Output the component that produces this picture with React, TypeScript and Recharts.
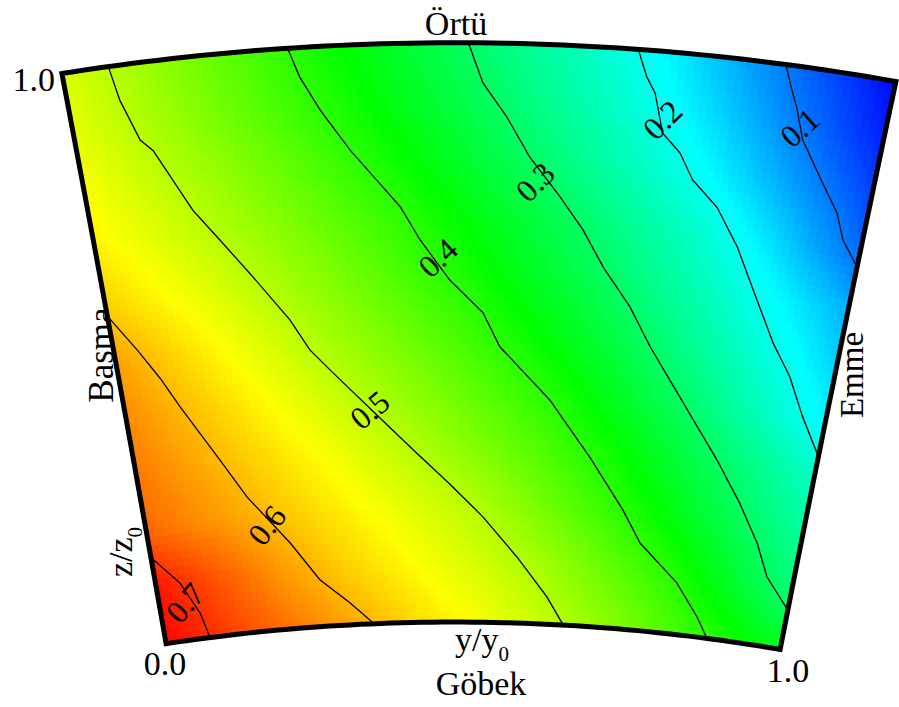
import React from 'react';
import { ComposedChart, Scatter, XAxis, YAxis, Customized } from 'recharts';

// ---- grid of the contour field (y/y0 across, z/z0 up) ----
const Y_GRID = [0, 0.1, 0.2, 0.3, 0.4, 0.5, 0.6, 0.7, 0.8, 0.9, 1.0];
const Z_GRID = [0, 0.1, 0.2, 0.3, 0.4, 0.5, 0.6, 0.7, 0.8, 0.9, 1.0];
const FIELD_Z00 = [0.727, 0.690, 0.652, 0.615, 0.580, 0.547, 0.515, 0.477, 0.434, 0.392, 0.349];
const FIELD_Z01 = [0.718, 0.670, 0.622, 0.584, 0.553, 0.523, 0.490, 0.447, 0.404, 0.345, 0.285];
const FIELD_Z02 = [0.657, 0.626, 0.594, 0.562, 0.531, 0.499, 0.455, 0.412, 0.363, 0.310, 0.258];
const FIELD_Z03 = [0.645, 0.609, 0.574, 0.538, 0.502, 0.464, 0.425, 0.382, 0.331, 0.280, 0.229];
const FIELD_Z04 = [0.632, 0.592, 0.551, 0.511, 0.473, 0.436, 0.398, 0.348, 0.297, 0.239, 0.182];
const FIELD_Z05 = [0.616, 0.571, 0.527, 0.485, 0.447, 0.409, 0.364, 0.317, 0.265, 0.211, 0.157];
const FIELD_Z06 = [0.582, 0.543, 0.503, 0.463, 0.423, 0.381, 0.336, 0.290, 0.238, 0.186, 0.134];
const FIELD_Z07 = [0.560, 0.521, 0.481, 0.442, 0.403, 0.358, 0.313, 0.264, 0.214, 0.154, 0.090];
const FIELD_Z08 = [0.546, 0.504, 0.463, 0.421, 0.377, 0.331, 0.284, 0.233, 0.180, 0.123, 0.065];
const FIELD_Z09 = [0.532, 0.488, 0.444, 0.401, 0.355, 0.310, 0.260, 0.210, 0.155, 0.098, 0.041];
const FIELD_Z10 = [0.526, 0.479, 0.433, 0.387, 0.340, 0.293, 0.244, 0.194, 0.138, 0.081, 0.025];
const FIELD = [FIELD_Z00, FIELD_Z01, FIELD_Z02, FIELD_Z03, FIELD_Z04, FIELD_Z05, FIELD_Z06, FIELD_Z07, FIELD_Z08, FIELD_Z09, FIELD_Z10];

// ---- contour lines, [y/y0, z/z0] ----
const CONTOUR_07 = [[0.000, 0.151], [0.038, 0.100], [0.062, 0.044], [0.072, 0.000]];
const CONTOUR_06 = [[0.000, 0.574], [0.032, 0.509], [0.057, 0.455], [0.079, 0.401], [0.125, 0.302], [0.158, 0.234], [0.216, 0.148], [0.257, 0.081], [0.302, 0.038], [0.339, 0.000]];
const CONTOUR_05 = [[0.056, 1.000], [0.063, 0.940], [0.080, 0.867], [0.094, 0.846], [0.133, 0.736], [0.163, 0.680], [0.201, 0.611], [0.245, 0.532], [0.269, 0.478], [0.299, 0.436], [0.358, 0.360], [0.409, 0.298], [0.463, 0.238], [0.513, 0.182], [0.567, 0.114], [0.617, 0.047], [0.646, 0.000]];
const CONTOUR_04 = [[0.271, 1.000], [0.283, 0.949], [0.305, 0.890], [0.339, 0.819], [0.371, 0.765], [0.400, 0.718], [0.425, 0.660], [0.464, 0.590], [0.509, 0.534], [0.533, 0.476], [0.606, 0.387], [0.669, 0.292], [0.725, 0.205], [0.756, 0.151], [0.820, 0.089], [0.859, 0.035], [0.880, 0.000]];
const CONTOUR_03 = [[0.487, 1.000], [0.505, 0.931], [0.535, 0.873], [0.565, 0.805], [0.606, 0.738], [0.638, 0.683], [0.668, 0.621], [0.708, 0.556], [0.741, 0.490], [0.796, 0.399], [0.855, 0.308], [0.898, 0.239], [0.934, 0.175], [0.958, 0.120], [1.000, 0.069]];
const CONTOUR_02 = [[0.690, 1.000], [0.703, 0.954], [0.715, 0.927], [0.729, 0.859], [0.753, 0.828], [0.773, 0.783], [0.808, 0.741], [0.841, 0.677], [0.870, 0.607], [0.908, 0.521], [0.939, 0.467], [0.967, 0.402], [1.000, 0.339]];
const CONTOUR_01 = [[0.867, 1.000], [0.879, 0.958], [0.888, 0.930], [0.902, 0.875], [0.931, 0.816], [0.961, 0.759], [0.975, 0.715], [1.000, 0.673]];
const CONTOURS = [CONTOUR_01, CONTOUR_02, CONTOUR_03, CONTOUR_04, CONTOUR_05, CONTOUR_06, CONTOUR_07];

// ---- contour labels ----
const LABEL_TEXT = ['0.1', '0.2', '0.3', '0.4', '0.5', '0.6', '0.7'];
const LABEL_POS = [[0.896, 0.895], [0.727, 0.882], [0.573, 0.762], [0.448, 0.629], [0.348, 0.369], [0.183, 0.182], [0.041, 0.065]];
const LABEL_ANGLE = [-42, -45, -45, -43, -40, -52, -49];

// ---- colour map ----
const CMAP_VALUES = [0.02, 0.185, 0.37, 0.55, 0.73];
const CMAP_COLORS = [[0, 0, 255], [0, 255, 255], [0, 255, 0], [255, 255, 0], [255, 0, 0]];

// ---- passage geometry (hub / shroud arcs, normalised by shroud radius) ----
const R_HUB = 0.77077;
const R_TIP = 1.0;
const PHI_HUB = [-0.14886, 0.16768];
const PHI_TIP = [-0.15617, 0.17536];
const X_DOMAIN = [-0.180037, 0.175684];
const Y_DOMAIN = [0.737162, 1.016912];

const W = 899;
const H = 707;
const FONT = "'Liberation Serif', 'Times New Roman', serif";

function toXY(u: number, v: number) {
  const r = R_HUB + v * (R_TIP - R_HUB);
  const pl = PHI_HUB[0] + v * (PHI_TIP[0] - PHI_HUB[0]);
  const pr = PHI_HUB[1] + v * (PHI_TIP[1] - PHI_HUB[1]);
  const p = pl + u * (pr - pl);
  return { x: r * Math.sin(p), y: r * Math.cos(p), rot: (p * 180) / Math.PI };
}

function fieldAt(u: number, v: number) {
  const n = Y_GRID.length - 1;
  const m = Z_GRID.length - 1;
  const fu = u * n;
  const fv = v * m;
  const i = Math.max(0, Math.min(n - 1, Math.floor(fu)));
  const j = Math.max(0, Math.min(m - 1, Math.floor(fv)));
  const tu = fu - i;
  const tv = fv - j;
  const a = FIELD[j][i] * (1 - tu) + FIELD[j][i + 1] * tu;
  const b = FIELD[j + 1][i] * (1 - tu) + FIELD[j + 1][i + 1] * tu;
  return a * (1 - tv) + b * tv;
}

function colorOf(val: number) {
  const vs = CMAP_VALUES;
  if (val <= vs[0]) return `rgb(${CMAP_COLORS[0].join(',')})`;
  if (val >= vs[vs.length - 1]) return `rgb(${CMAP_COLORS[vs.length - 1].join(',')})`;
  let k = 0;
  while (k < vs.length - 2 && val > vs[k + 1]) k++;
  const t = (val - vs[k]) / (vs[k + 1] - vs[k]);
  const c = CMAP_COLORS[k].map((c0, idx) => Math.round(c0 + t * (CMAP_COLORS[k + 1][idx] - c0)));
  return `rgb(${c.join(',')})`;
}

// shading cells
const NU = 100;
const NV = 70;
const cells: { x: number; y: number; rot: number; fill: string }[] = [];
for (let j = 0; j < NV; j++) {
  for (let i = 0; i < NU; i++) {
    const u = (i + 0.5) / NU;
    const v = (j + 0.5) / NV;
    const p = toXY(u, v);
    cells.push({ x: p.x, y: p.y, rot: p.rot, fill: colorOf(fieldAt(u, v)) });
  }
}

const contourData = CONTOURS.map((c) => c.map(([u, v]) => toXY(u, v)));
const labelData = LABEL_POS.map(([u, v], k) => ({ ...toXY(u, v), text: LABEL_TEXT[k], angle: LABEL_ANGLE[k] }));

// frame outline
const frame: { x: number; y: number }[] = [];
const NS = 60;
for (let k = 0; k <= NS; k++) frame.push(toXY(k / NS, 1));
for (let k = 1; k <= NS; k++) frame.push(toXY(1, 1 - k / NS));
for (let k = 1; k <= NS; k++) frame.push(toXY(1 - k / NS, 0));
for (let k = 1; k <= NS; k++) frame.push(toXY(0, k / NS));
frame.push(toXY(0.02, 1));

const CellShape = (props: any) => {
  const { cx, cy, payload } = props;
  if (cx == null || cy == null) return null;
  const s = 9.2;
  return (
    <rect
      x={cx - s / 2}
      y={cy - s / 2}
      width={s}
      height={s}
      fill={payload.fill}
      transform={`rotate(${payload.rot} ${cx} ${cy})`}
    />
  );
};

const NoShape = () => null;

const LabelShape = (props: any) => {
  const { cx, cy, payload } = props;
  if (cx == null || cy == null) return null;
  return (
    <text
      x={cx}
      y={cy}
      textAnchor="middle"
      dominantBaseline="central"
      fontFamily={FONT}
      fontSize={32}
      fill="#000"
      transform={`rotate(${payload.angle} ${cx} ${cy})`}
    >
      {payload.text}
    </text>
  );
};

const StaticText = () => (
  <g fontFamily={FONT} fill="#000">
    <text x={456} y={35} fontSize={34} textAnchor="middle">Örtü</text>
    <text x={55} y={91} fontSize={34} textAnchor="end">1.0</text>
    <text x={165} y={675} fontSize={34} textAnchor="middle">0.0</text>
    <text x={788} y={682} fontSize={34} textAnchor="middle">1.0</text>
    <text x={455} y={651} fontSize={34}>
      y/y<tspan fontSize={21} dy={10}>0</tspan>
    </text>
    <text x={481} y={695} fontSize={34} textAnchor="middle">Göbek</text>
    <text x={113} y={355} fontSize={35} textAnchor="middle" transform="rotate(-90 113 355)">Basma</text>
    <text x={132} y={552} fontSize={34} textAnchor="middle" transform="rotate(-90 132 552)">
      z/z<tspan fontSize={21} dy={10}>0</tspan>
    </text>
    <text x={863} y={375} fontSize={33} textAnchor="middle" transform="rotate(-90 863 375)">Emme</text>
  </g>
);

export default function App() {
  return (
    <div style={{ position: 'absolute', left: 0, top: 0, width: W, height: H, background: '#fff' }}>
      <ComposedChart width={W} height={H} margin={{ top: 0, right: 0, bottom: 0, left: 0 }}>
        <XAxis type="number" dataKey="x" domain={X_DOMAIN} allowDataOverflow hide />
        <YAxis type="number" dataKey="y" domain={Y_DOMAIN} allowDataOverflow hide />
        <Scatter data={cells} shape={CellShape} isAnimationActive={false} />
        {contourData.map((pts, k) => (
          <Scatter
            key={`c${k}`}
            data={pts}
            shape={NoShape}
            line={{ stroke: '#000', strokeWidth: 1.3, fill: 'none' }}
            lineType="joint"
            lineJointType="linear"
            isAnimationActive={false}
          />
        ))}
        <Scatter
          data={frame}
          shape={NoShape}
          line={{ stroke: '#000', strokeWidth: 5, fill: 'none', strokeLinejoin: 'miter' }}
          lineType="joint"
          lineJointType="linear"
          isAnimationActive={false}
        />
        <Scatter data={labelData} shape={LabelShape} isAnimationActive={false} />
        <Customized component={StaticText} />
      </ComposedChart>
    </div>
  );
}
